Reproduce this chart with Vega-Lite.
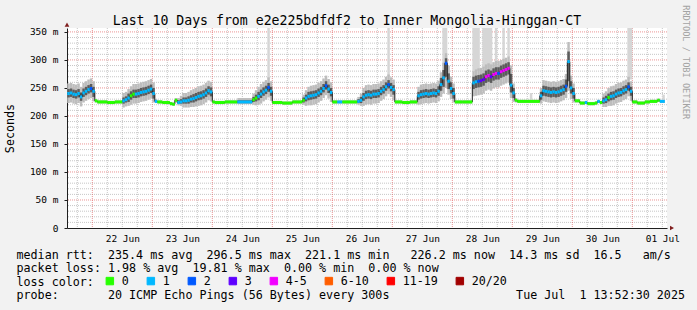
{
  "$schema": "https://vega.github.io/schema/vega-lite/v6.json",
  "width": 600,
  "height": 200,
  "autosize": {"type": "none"},
  "padding": {"left": 67, "top": 28, "right": 30, "bottom": 82},
  "background": "#f2f2f2",
  "title": {
    "text": "Last 10 Days from e2e225bdfdf2 to Inner Mongolia-Hinggan-CT",
    "font": "DejaVu Sans Mono",
    "fontSize": 13.2,
    "fontWeight": "normal",
    "color": "#000000",
    "anchor": "middle",
    "frame": "group",
    "dx": -20,
    "offset": -23
  },
  "datasets": {
    "d": [
      {"t":"2025-06-21T13:00","e":"2025-06-21T14:00","m":240,"l":"1","a":223,"b":258,"c":233,"d":248},
      {"t":"2025-06-21T14:00","e":"2025-06-21T15:00","m":240,"l":"1","a":223,"b":258,"c":233,"d":248},
      {"t":"2025-06-21T15:00","e":"2025-06-21T16:00","m":241,"l":"1","a":224,"b":259,"c":234,"d":249},
      {"t":"2025-06-21T16:00","e":"2025-06-21T17:00","m":239,"l":"1","a":222,"b":257,"c":232,"d":247},
      {"t":"2025-06-21T17:00","e":"2025-06-21T18:00","m":238,"l":"1","a":221,"b":256,"c":231,"d":246},
      {"t":"2025-06-21T18:00","e":"2025-06-21T19:00","m":240,"l":"1","a":223,"b":258,"c":233,"d":248},
      {"t":"2025-06-21T19:00","e":"2025-06-21T20:00","m":234,"l":"1","a":217,"b":252,"c":227,"d":242},
      {"t":"2025-06-21T20:00","e":"2025-06-21T21:00","m":241,"l":"1","a":224,"b":259,"c":234,"d":249},
      {"t":"2025-06-21T21:00","e":"2025-06-21T22:00","m":244,"l":"1","a":227,"b":262,"c":237,"d":252},
      {"t":"2025-06-21T22:00","e":"2025-06-21T23:00","m":247,"l":"1","a":230,"b":265,"c":240,"d":255},
      {"t":"2025-06-21T23:00","e":"2025-06-22T00:00","m":249,"l":"2","a":232,"b":267,"c":242,"d":257},
      {"t":"2025-06-22T00:00","e":"2025-06-22T01:00","m":244,"l":"1","a":226,"b":262,"c":234,"d":252},
      {"t":"2025-06-22T01:00","e":"2025-06-22T02:00","m":227,"l":"0","a":224,"b":230},
      {"t":"2025-06-22T02:00","e":"2025-06-22T06:00","m":225,"l":"0","a":222,"b":228},
      {"t":"2025-06-22T06:00","e":"2025-06-22T09:00","m":224,"l":"0","a":221,"b":227},
      {"t":"2025-06-22T09:00","e":"2025-06-22T12:00","m":225,"l":"0","a":222,"b":228},
      {"t":"2025-06-22T12:00","e":"2025-06-22T13:00","m":227,"l":"1","a":215,"b":241,"c":222,"d":233},
      {"t":"2025-06-22T13:00","e":"2025-06-22T14:00","m":229,"l":"1","a":217,"b":243,"c":224,"d":235},
      {"t":"2025-06-22T14:00","e":"2025-06-22T15:00","m":232,"l":"1","a":218,"b":248,"c":225,"d":240},
      {"t":"2025-06-22T15:00","e":"2025-06-22T16:00","m":236,"l":"0","a":220,"b":253,"c":229,"d":244},
      {"t":"2025-06-22T16:00","e":"2025-06-22T17:00","m":239,"l":"0","a":222,"b":257,"c":232,"d":247},
      {"t":"2025-06-22T17:00","e":"2025-06-22T18:00","m":239,"l":"1","a":222,"b":257,"c":232,"d":247},
      {"t":"2025-06-22T18:00","e":"2025-06-22T19:00","m":240,"l":"1","a":223,"b":258,"c":233,"d":248},
      {"t":"2025-06-22T19:00","e":"2025-06-22T20:00","m":242,"l":"1","a":225,"b":260,"c":235,"d":250},
      {"t":"2025-06-22T20:00","e":"2025-06-22T21:00","m":243,"l":"1","a":226,"b":261,"c":236,"d":251},
      {"t":"2025-06-22T21:00","e":"2025-06-22T22:00","m":244,"l":"1","a":227,"b":262,"c":237,"d":252},
      {"t":"2025-06-22T22:00","e":"2025-06-22T23:00","m":246,"l":"1","a":229,"b":264,"c":239,"d":254},
      {"t":"2025-06-22T23:00","e":"2025-06-23T00:00","m":248,"l":"1","a":231,"b":266,"c":241,"d":256},
      {"t":"2025-06-23T00:00","e":"2025-06-23T01:00","m":240,"l":"1","a":224,"b":260,"c":231,"d":250},
      {"t":"2025-06-23T01:00","e":"2025-06-23T02:00","m":226,"l":"1","a":223,"b":230},
      {"t":"2025-06-23T02:00","e":"2025-06-23T04:00","m":225,"l":"0","a":222,"b":228},
      {"t":"2025-06-23T04:00","e":"2025-06-23T07:00","m":224,"l":"0","a":221,"b":227},
      {"t":"2025-06-23T07:00","e":"2025-06-23T08:00","m":222,"l":"0","a":219,"b":225},
      {"t":"2025-06-23T08:00","e":"2025-06-23T09:00","m":221,"l":"0","a":218,"b":224},
      {"t":"2025-06-23T09:00","e":"2025-06-23T10:00","m":228,"l":"0","a":224,"b":232},
      {"t":"2025-06-23T10:00","e":"2025-06-23T11:00","m":224,"l":"1","a":219,"b":232,"c":222,"d":228},
      {"t":"2025-06-23T11:00","e":"2025-06-23T12:00","m":225,"l":"1","a":218,"b":236,"c":222,"d":230},
      {"t":"2025-06-23T12:00","e":"2025-06-23T13:00","m":227,"l":"1","a":215,"b":241,"c":222,"d":233},
      {"t":"2025-06-23T13:00","e":"2025-06-23T14:00","m":227,"l":"1","a":215,"b":241,"c":222,"d":233},
      {"t":"2025-06-23T14:00","e":"2025-06-23T15:00","m":228,"l":"1","a":215,"b":243,"c":222,"d":235},
      {"t":"2025-06-23T15:00","e":"2025-06-23T16:00","m":230,"l":"1","a":216,"b":246,"c":224,"d":237},
      {"t":"2025-06-23T16:00","e":"2025-06-23T17:00","m":231,"l":"1","a":216,"b":248,"c":224,"d":239},
      {"t":"2025-06-23T17:00","e":"2025-06-23T18:00","m":233,"l":"1","a":217,"b":250,"c":226,"d":241},
      {"t":"2025-06-23T18:00","e":"2025-06-23T19:00","m":235,"l":"1","a":218,"b":253,"c":228,"d":243},
      {"t":"2025-06-23T19:00","e":"2025-06-23T20:00","m":236,"l":"1","a":219,"b":254,"c":229,"d":244},
      {"t":"2025-06-23T20:00","e":"2025-06-23T21:00","m":238,"l":"1","a":221,"b":256,"c":231,"d":246},
      {"t":"2025-06-23T21:00","e":"2025-06-23T22:00","m":241,"l":"1","a":224,"b":259,"c":234,"d":249},
      {"t":"2025-06-23T22:00","e":"2025-06-23T23:00","m":245,"l":"1","a":228,"b":263,"c":238,"d":253},
      {"t":"2025-06-23T23:00","e":"2025-06-24T00:00","m":243,"l":"1","a":226,"b":261,"c":235,"d":251},
      {"t":"2025-06-24T00:00","e":"2025-06-24T01:00","m":225,"l":"0","a":222,"b":228},
      {"t":"2025-06-24T01:00","e":"2025-06-24T05:00","m":224,"l":"0","a":221,"b":227},
      {"t":"2025-06-24T05:00","e":"2025-06-24T10:00","m":225,"l":"0","a":222,"b":228},
      {"t":"2025-06-24T10:00","e":"2025-06-24T16:00","m":225,"l":"1","a":221,"b":232,"c":223,"d":228},
      {"t":"2025-06-24T16:00","e":"2025-06-24T17:00","m":229,"l":"0","a":220,"b":240,"c":225,"d":234},
      {"t":"2025-06-24T17:00","e":"2025-06-24T18:00","m":232,"l":"0","a":219,"b":246,"c":226,"d":238},
      {"t":"2025-06-24T18:00","e":"2025-06-24T19:00","m":235,"l":"1","a":220,"b":252,"c":228,"d":243},
      {"t":"2025-06-24T19:00","e":"2025-06-24T20:00","m":239,"l":"1","a":222,"b":257,"c":232,"d":247},
      {"t":"2025-06-24T20:00","e":"2025-06-24T21:00","m":243,"l":"1","a":226,"b":261,"c":236,"d":251},
      {"t":"2025-06-24T21:00","e":"2025-06-24T22:00","m":246,"l":"1","a":229,"b":264,"c":239,"d":254},
      {"t":"2025-06-24T22:00","e":"2025-06-24T23:00","m":251,"l":"2","a":233,"b":269,"c":243,"d":259},
      {"t":"2025-06-24T23:00","e":"2025-06-25T00:00","m":244,"l":"1","a":227,"b":262,"c":236,"d":252},
      {"t":"2025-06-25T00:00","e":"2025-06-25T04:00","m":224,"l":"0","a":221,"b":227},
      {"t":"2025-06-25T04:00","e":"2025-06-25T08:00","m":223,"l":"0","a":220,"b":226},
      {"t":"2025-06-25T08:00","e":"2025-06-25T12:00","m":225,"l":"0","a":222,"b":228},
      {"t":"2025-06-25T12:00","e":"2025-06-25T13:00","m":228,"l":"0","a":220,"b":238,"c":224,"d":233},
      {"t":"2025-06-25T13:00","e":"2025-06-25T14:00","m":232,"l":"1","a":218,"b":246,"c":226,"d":238},
      {"t":"2025-06-25T14:00","e":"2025-06-25T15:00","m":235,"l":"1","a":219,"b":252,"c":228,"d":243},
      {"t":"2025-06-25T15:00","e":"2025-06-25T16:00","m":236,"l":"1","a":219,"b":254,"c":229,"d":244},
      {"t":"2025-06-25T16:00","e":"2025-06-25T17:00","m":237,"l":"1","a":220,"b":255,"c":230,"d":245},
      {"t":"2025-06-25T17:00","e":"2025-06-25T18:00","m":238,"l":"1","a":221,"b":256,"c":231,"d":246},
      {"t":"2025-06-25T18:00","e":"2025-06-25T19:00","m":241,"l":"1","a":224,"b":259,"c":234,"d":249},
      {"t":"2025-06-25T19:00","e":"2025-06-25T20:00","m":244,"l":"1","a":227,"b":262,"c":237,"d":252},
      {"t":"2025-06-25T20:00","e":"2025-06-25T21:00","m":249,"l":"1","a":232,"b":267,"c":242,"d":257},
      {"t":"2025-06-25T21:00","e":"2025-06-25T22:00","m":254,"l":"2","a":237,"b":272,"c":247,"d":262},
      {"t":"2025-06-25T22:00","e":"2025-06-25T23:00","m":248,"l":"1","a":231,"b":266,"c":241,"d":256},
      {"t":"2025-06-25T23:00","e":"2025-06-26T00:00","m":242,"l":"1","a":225,"b":260,"c":235,"d":250},
      {"t":"2025-06-26T00:00","e":"2025-06-26T02:00","m":225,"l":"0","a":222,"b":228},
      {"t":"2025-06-26T02:00","e":"2025-06-26T04:00","m":225,"l":"1","a":222,"b":228},
      {"t":"2025-06-26T04:00","e":"2025-06-26T10:00","m":225,"l":"0","a":222,"b":228},
      {"t":"2025-06-26T10:00","e":"2025-06-26T11:00","m":226,"l":"1","a":220,"b":234,"c":223,"d":230},
      {"t":"2025-06-26T11:00","e":"2025-06-26T12:00","m":228,"l":"1","a":218,"b":240,"c":223,"d":234},
      {"t":"2025-06-26T12:00","e":"2025-06-26T13:00","m":234,"l":"1","a":218,"b":250,"c":227,"d":241},
      {"t":"2025-06-26T13:00","e":"2025-06-26T14:00","m":237,"l":"1","a":220,"b":255,"c":230,"d":245},
      {"t":"2025-06-26T14:00","e":"2025-06-26T15:00","m":238,"l":"1","a":221,"b":256,"c":231,"d":246},
      {"t":"2025-06-26T15:00","e":"2025-06-26T16:00","m":237,"l":"1","a":220,"b":255,"c":230,"d":245},
      {"t":"2025-06-26T16:00","e":"2025-06-26T17:00","m":239,"l":"1","a":222,"b":257,"c":232,"d":247},
      {"t":"2025-06-26T17:00","e":"2025-06-26T18:00","m":239,"l":"1","a":222,"b":257,"c":232,"d":247},
      {"t":"2025-06-26T18:00","e":"2025-06-26T19:00","m":240,"l":"1","a":223,"b":258,"c":233,"d":248},
      {"t":"2025-06-26T19:00","e":"2025-06-26T20:00","m":244,"l":"1","a":227,"b":262,"c":237,"d":252},
      {"t":"2025-06-26T20:00","e":"2025-06-26T21:00","m":247,"l":"1","a":230,"b":265,"c":240,"d":255},
      {"t":"2025-06-26T21:00","e":"2025-06-26T22:00","m":252,"l":"1","a":235,"b":270,"c":245,"d":260},
      {"t":"2025-06-26T22:00","e":"2025-06-26T23:00","m":256,"l":"2","a":239,"b":274,"c":249,"d":264},
      {"t":"2025-06-26T23:00","e":"2025-06-27T00:00","m":251,"l":"1","a":234,"b":269,"c":244,"d":259},
      {"t":"2025-06-27T00:00","e":"2025-06-27T01:00","m":247,"l":"1","a":228,"b":265,"c":238,"d":255},
      {"t":"2025-06-27T01:00","e":"2025-06-27T04:00","m":225,"l":"0","a":222,"b":228},
      {"t":"2025-06-27T04:00","e":"2025-06-27T07:00","m":224,"l":"0","a":221,"b":227},
      {"t":"2025-06-27T07:00","e":"2025-06-27T10:00","m":225,"l":"0","a":222,"b":228},
      {"t":"2025-06-27T10:00","e":"2025-06-27T11:00","m":236,"l":"1","a":220,"b":252,"c":229,"d":243},
      {"t":"2025-06-27T11:00","e":"2025-06-27T12:00","m":238,"l":"1","a":221,"b":256,"c":231,"d":246},
      {"t":"2025-06-27T12:00","e":"2025-06-27T13:00","m":239,"l":"1","a":222,"b":257,"c":232,"d":247},
      {"t":"2025-06-27T13:00","e":"2025-06-27T14:00","m":240,"l":"1","a":223,"b":258,"c":233,"d":248},
      {"t":"2025-06-27T14:00","e":"2025-06-27T15:00","m":239,"l":"1","a":222,"b":257,"c":232,"d":247},
      {"t":"2025-06-27T15:00","e":"2025-06-27T16:00","m":240,"l":"1","a":223,"b":258,"c":233,"d":248},
      {"t":"2025-06-27T16:00","e":"2025-06-27T17:00","m":241,"l":"1","a":224,"b":259,"c":234,"d":249},
      {"t":"2025-06-27T17:00","e":"2025-06-27T18:00","m":240,"l":"1","a":223,"b":258,"c":233,"d":248},
      {"t":"2025-06-27T18:00","e":"2025-06-27T19:00","m":244,"l":"1","a":226,"b":263,"c":236,"d":253},
      {"t":"2025-06-27T19:00","e":"2025-06-27T20:00","m":256,"l":"1","a":234,"b":278,"c":245,"d":268},
      {"t":"2025-06-27T20:00","e":"2025-06-27T21:00","m":268,"l":"1","a":240,"b":295,"c":252,"d":282},
      {"t":"2025-06-27T21:00","e":"2025-06-27T22:00","m":294,"l":"2","a":250,"b":312,"c":270,"d":303},
      {"t":"2025-06-27T22:00","e":"2025-06-27T23:00","m":262,"l":"1","a":238,"b":290,"c":248,"d":276},
      {"t":"2025-06-27T23:00","e":"2025-06-28T00:00","m":249,"l":"1","a":230,"b":270,"c":240,"d":260},
      {"t":"2025-06-28T00:00","e":"2025-06-28T01:00","m":240,"l":"1","a":224,"b":258,"c":231,"d":250},
      {"t":"2025-06-28T01:00","e":"2025-06-28T04:00","m":225,"l":"0","a":222,"b":228},
      {"t":"2025-06-28T04:00","e":"2025-06-28T08:00","m":225,"l":"0","a":222,"b":228},
      {"t":"2025-06-28T08:00","e":"2025-06-28T09:00","m":259,"l":"1","a":235,"b":280,"c":248,"d":270},
      {"t":"2025-06-28T09:00","e":"2025-06-28T10:00","m":261,"l":"1","a":236,"b":283,"c":250,"d":272},
      {"t":"2025-06-28T10:00","e":"2025-06-28T11:00","m":262,"l":"2","a":237,"b":285,"c":251,"d":273},
      {"t":"2025-06-28T11:00","e":"2025-06-28T12:00","m":263,"l":"3","a":238,"b":286,"c":252,"d":274},
      {"t":"2025-06-28T12:00","e":"2025-06-28T13:00","m":265,"l":"3","a":240,"b":288,"c":254,"d":276},
      {"t":"2025-06-28T13:00","e":"2025-06-28T14:00","m":270,"l":"4-5","a":245,"b":292,"c":259,"d":281},
      {"t":"2025-06-28T14:00","e":"2025-06-28T15:00","m":272,"l":"4-5","a":247,"b":294,"c":261,"d":283},
      {"t":"2025-06-28T15:00","e":"2025-06-28T16:00","m":270,"l":"3","a":245,"b":292,"c":259,"d":281},
      {"t":"2025-06-28T16:00","e":"2025-06-28T17:00","m":274,"l":"4-5","a":249,"b":296,"c":263,"d":285},
      {"t":"2025-06-28T17:00","e":"2025-06-28T18:00","m":276,"l":"4-5","a":251,"b":298,"c":265,"d":287},
      {"t":"2025-06-28T18:00","e":"2025-06-28T19:00","m":276,"l":"2","a":251,"b":298,"c":265,"d":287},
      {"t":"2025-06-28T19:00","e":"2025-06-28T20:00","m":279,"l":"4-5","a":254,"b":300,"c":268,"d":290},
      {"t":"2025-06-28T20:00","e":"2025-06-28T21:00","m":281,"l":"4-5","a":256,"b":302,"c":270,"d":292},
      {"t":"2025-06-28T21:00","e":"2025-06-28T22:00","m":283,"l":"4-5","a":258,"b":304,"c":272,"d":294},
      {"t":"2025-06-28T22:00","e":"2025-06-28T23:00","m":285,"l":"4-5","a":260,"b":306,"c":274,"d":296},
      {"t":"2025-06-28T23:00","e":"2025-06-29T00:00","m":255,"l":"1","a":232,"b":290,"c":242,"d":275},
      {"t":"2025-06-29T00:00","e":"2025-06-29T01:00","m":241,"l":"1","a":225,"b":258,"c":232,"d":250},
      {"t":"2025-06-29T01:00","e":"2025-06-29T02:00","m":228,"l":"0","a":224,"b":232},
      {"t":"2025-06-29T02:00","e":"2025-06-29T11:00","m":226,"l":"0","a":223,"b":229},
      {"t":"2025-06-29T11:00","e":"2025-06-29T12:00","m":236,"l":"1","a":222,"b":250,"c":229,"d":243},
      {"t":"2025-06-29T12:00","e":"2025-06-29T13:00","m":245,"l":"1","a":226,"b":264,"c":236,"d":254},
      {"t":"2025-06-29T13:00","e":"2025-06-29T14:00","m":244,"l":"1","a":225,"b":263,"c":235,"d":253},
      {"t":"2025-06-29T14:00","e":"2025-06-29T15:00","m":243,"l":"1","a":224,"b":262,"c":234,"d":252},
      {"t":"2025-06-29T15:00","e":"2025-06-29T16:00","m":242,"l":"1","a":223,"b":261,"c":233,"d":251},
      {"t":"2025-06-29T16:00","e":"2025-06-29T17:00","m":243,"l":"1","a":224,"b":262,"c":234,"d":252},
      {"t":"2025-06-29T17:00","e":"2025-06-29T18:00","m":242,"l":"1","a":223,"b":261,"c":233,"d":251},
      {"t":"2025-06-29T18:00","e":"2025-06-29T19:00","m":243,"l":"1","a":224,"b":262,"c":234,"d":252},
      {"t":"2025-06-29T19:00","e":"2025-06-29T20:00","m":245,"l":"1","a":226,"b":264,"c":236,"d":254},
      {"t":"2025-06-29T20:00","e":"2025-06-29T21:00","m":247,"l":"1","a":228,"b":266,"c":238,"d":256},
      {"t":"2025-06-29T21:00","e":"2025-06-29T22:00","m":253,"l":"2","a":232,"b":275,"c":243,"d":265},
      {"t":"2025-06-29T22:00","e":"2025-06-29T23:00","m":297,"l":"1","a":245,"b":332,"c":262,"d":315},
      {"t":"2025-06-29T23:00","e":"2025-06-30T00:00","m":250,"l":"1","a":230,"b":272,"c":240,"d":262},
      {"t":"2025-06-30T00:00","e":"2025-06-30T01:00","m":240,"l":"1","a":224,"b":258,"c":231,"d":250},
      {"t":"2025-06-30T01:00","e":"2025-06-30T03:00","m":227,"l":"0","a":224,"b":230},
      {"t":"2025-06-30T03:00","e":"2025-06-30T05:00","m":223,"l":"0","a":220,"b":226},
      {"t":"2025-06-30T05:00","e":"2025-06-30T06:00","m":224,"l":"1","a":221,"b":227},
      {"t":"2025-06-30T06:00","e":"2025-06-30T09:00","m":222,"l":"0","a":219,"b":225},
      {"t":"2025-06-30T09:00","e":"2025-06-30T10:00","m":223,"l":"0","a":220,"b":226},
      {"t":"2025-06-30T10:00","e":"2025-06-30T11:00","m":226,"l":"1","a":223,"b":229},
      {"t":"2025-06-30T11:00","e":"2025-06-30T12:00","m":224,"l":"0","a":221,"b":227},
      {"t":"2025-06-30T12:00","e":"2025-06-30T13:00","m":227,"l":"1","a":216,"b":240,"c":222,"d":233},
      {"t":"2025-06-30T13:00","e":"2025-06-30T14:00","m":229,"l":"1","a":216,"b":244,"c":223,"d":236},
      {"t":"2025-06-30T14:00","e":"2025-06-30T15:00","m":233,"l":"0","a":218,"b":250,"c":226,"d":240},
      {"t":"2025-06-30T15:00","e":"2025-06-30T16:00","m":235,"l":"1","a":218,"b":253,"c":228,"d":243},
      {"t":"2025-06-30T16:00","e":"2025-06-30T17:00","m":236,"l":"1","a":219,"b":254,"c":229,"d":244},
      {"t":"2025-06-30T17:00","e":"2025-06-30T18:00","m":239,"l":"1","a":222,"b":257,"c":232,"d":247},
      {"t":"2025-06-30T18:00","e":"2025-06-30T19:00","m":241,"l":"1","a":224,"b":259,"c":234,"d":249},
      {"t":"2025-06-30T19:00","e":"2025-06-30T20:00","m":242,"l":"1","a":225,"b":260,"c":235,"d":250},
      {"t":"2025-06-30T20:00","e":"2025-06-30T21:00","m":245,"l":"1","a":228,"b":263,"c":238,"d":253},
      {"t":"2025-06-30T21:00","e":"2025-06-30T22:00","m":247,"l":"1","a":230,"b":265,"c":240,"d":255},
      {"t":"2025-06-30T22:00","e":"2025-06-30T23:00","m":252,"l":"2","a":235,"b":270,"c":245,"d":260},
      {"t":"2025-06-30T23:00","e":"2025-07-01T00:00","m":244,"l":"1","a":227,"b":262,"c":236,"d":252},
      {"t":"2025-07-01T00:00","e":"2025-07-01T02:00","m":225,"l":"0","a":222,"b":228},
      {"t":"2025-07-01T02:00","e":"2025-07-01T05:00","m":223,"l":"0","a":220,"b":226},
      {"t":"2025-07-01T05:00","e":"2025-07-01T07:00","m":225,"l":"0","a":222,"b":228},
      {"t":"2025-07-01T07:00","e":"2025-07-01T10:00","m":226,"l":"0","a":223,"b":229},
      {"t":"2025-07-01T10:00","e":"2025-07-01T11:00","m":228,"l":"0","a":225,"b":231},
      {"t":"2025-07-01T11:00","e":"2025-07-01T13:00","m":226,"l":"1","a":223,"b":229}
    ],
    "s": [
      {"t":"2025-06-24T22:00","e":"2025-06-24T23:00","lo":265,"hi":357},
      {"t":"2025-06-26T22:00","e":"2025-06-26T23:00","lo":270,"hi":357},
      {"t":"2025-06-27T20:00","e":"2025-06-27T22:00","lo":290,"hi":357},
      {"t":"2025-06-28T08:00","e":"2025-06-28T11:00","lo":280,"hi":357},
      {"t":"2025-06-28T12:00","e":"2025-06-28T16:00","lo":285,"hi":357},
      {"t":"2025-06-28T17:00","e":"2025-06-28T18:00","lo":295,"hi":357},
      {"t":"2025-06-28T20:00","e":"2025-06-28T21:00","lo":300,"hi":357},
      {"t":"2025-06-28T22:00","e":"2025-06-28T23:00","lo":305,"hi":357},
      {"t":"2025-06-30T22:00","e":"2025-07-01T00:00","lo":265,"hi":357},
      {"t":"2025-06-29T07:00","e":"2025-06-29T08:00","lo":229,"hi":241},
      {"t":"2025-07-01T12:00","e":"2025-07-01T13:00","lo":229,"hi":238}
    ],
    "gxm": [
      {"t":"2025-06-21T18:00"},
      {"t":"2025-06-22T06:00"},{"t":"2025-06-22T12:00"},{"t":"2025-06-22T18:00"},
      {"t":"2025-06-23T06:00"},{"t":"2025-06-23T12:00"},{"t":"2025-06-23T18:00"},
      {"t":"2025-06-24T06:00"},{"t":"2025-06-24T12:00"},{"t":"2025-06-24T18:00"},
      {"t":"2025-06-25T06:00"},{"t":"2025-06-25T12:00"},{"t":"2025-06-25T18:00"},
      {"t":"2025-06-26T06:00"},{"t":"2025-06-26T12:00"},{"t":"2025-06-26T18:00"},
      {"t":"2025-06-27T06:00"},{"t":"2025-06-27T12:00"},{"t":"2025-06-27T18:00"},
      {"t":"2025-06-28T06:00"},{"t":"2025-06-28T12:00"},{"t":"2025-06-28T18:00"},
      {"t":"2025-06-29T06:00"},{"t":"2025-06-29T12:00"},{"t":"2025-06-29T18:00"},
      {"t":"2025-06-30T06:00"},{"t":"2025-06-30T12:00"},{"t":"2025-06-30T18:00"},
      {"t":"2025-07-01T06:00"},{"t":"2025-07-01T12:00"}
    ],
    "gxM": [
      {"t":"2025-06-22T00:00"},{"t":"2025-06-23T00:00"},{"t":"2025-06-24T00:00"},{"t":"2025-06-25T00:00"},{"t":"2025-06-26T00:00"},
      {"t":"2025-06-27T00:00"},{"t":"2025-06-28T00:00"},{"t":"2025-06-29T00:00"},{"t":"2025-06-30T00:00"},{"t":"2025-07-01T00:00"}
    ],
    "gym": [
      {"v":10},{"v":20},{"v":30},{"v":40},{"v":60},{"v":70},{"v":80},{"v":90},
      {"v":110},{"v":120},{"v":130},{"v":140},{"v":160},{"v":170},{"v":180},{"v":190},
      {"v":210},{"v":220},{"v":230},{"v":240},{"v":260},{"v":270},{"v":280},{"v":290},
      {"v":310},{"v":320},{"v":330},{"v":340}
    ],
    "gyM": [
      {"v":50},{"v":100},{"v":150},{"v":200},{"v":250},{"v":300},{"v":350}
    ]
  },
  "layer": [
    {
      "data": {"name": "gym"},
      "mark": {"type": "rule", "color": "#8f8f8f", "opacity": 0.5, "strokeWidth": 1, "strokeDash": [1, 1]},
      "encoding": {
        "y": {"field": "v", "type": "quantitative", "scale": {"domain": [0, 357], "nice": false, "zero": false}}
      }
    },
    {
      "data": {"name": "gxm"},
      "mark": {"type": "rule", "color": "#8f8f8f", "opacity": 0.5, "strokeWidth": 1, "strokeDash": [1, 1]},
      "encoding": {
        "x": {"field": "t", "type": "temporal", "scale": {"domain": [{"year":2025,"month":6,"date":21,"hours":13,"minutes":52,"seconds":30},{"year":2025,"month":7,"date":1,"hours":13,"minutes":52,"seconds":30}], "nice": false}}
      }
    },
    {
      "data": {"name": "gyM"},
      "mark": {"type": "rule", "color": "#de4f4f", "opacity": 0.6, "strokeWidth": 1, "strokeDash": [1, 1]},
      "encoding": {
        "y": {"field": "v", "type": "quantitative"}
      }
    },
    {
      "data": {"name": "gxM"},
      "mark": {"type": "rule", "color": "#de4f4f", "opacity": 0.6, "strokeWidth": 1, "strokeDash": [1, 1]},
      "encoding": {
        "x": {"field": "t", "type": "temporal"}
      }
    },
    {
      "data": {"name": "s"},
      "mark": {"type": "rect", "color": "#d6d6d6", "clip": true},
      "encoding": {
        "x": {"field": "t", "type": "temporal"},
        "x2": {"field": "e"},
        "y": {"field": "lo", "type": "quantitative"},
        "y2": {"field": "hi"}
      }
    },
    {
      "data": {"name": "d"},
      "mark": {"type": "rect", "color": "#bdbdbd", "clip": true},
      "encoding": {
        "x": {"field": "t", "type": "temporal", "scale": {"domain": [{"year":2025,"month":6,"date":21,"hours":13,"minutes":52,"seconds":30},{"year":2025,"month":7,"date":1,"hours":13,"minutes":52,"seconds":30}], "nice": false},
          "axis": {
            "title": [
              "median\u00a0rtt:\u00a0\u00a0235.4\u00a0ms\u00a0avg\u00a0\u00a0296.5\u00a0ms\u00a0max\u00a0\u00a0221.1\u00a0ms\u00a0min\u00a0\u00a0\u00a0226.2\u00a0ms\u00a0now\u00a0\u00a014.3\u00a0ms\u00a0sd\u00a0\u00a016.5\u00a0\u00a0\u00a0am/s",
              "packet\u00a0loss:\u00a01.98\u00a0%\u00a0avg\u00a0\u00a019.81\u00a0%\u00a0max\u00a0\u00a00.00\u00a0%\u00a0min\u00a0\u00a00.00\u00a0%\u00a0now",
              "loss\u00a0color:",
              "probe:\u00a0\u00a0\u00a0\u00a0\u00a0\u00a0\u00a020\u00a0ICMP\u00a0Echo\u00a0Pings\u00a0(56\u00a0Bytes)\u00a0every\u00a0300s\u00a0\u00a0\u00a0\u00a0\u00a0\u00a0\u00a0\u00a0\u00a0\u00a0\u00a0\u00a0\u00a0\u00a0\u00a0\u00a0\u00a0\u00a0Tue\u00a0Jul\u00a0\u00a01\u00a013:52:30\u00a02025"
            ],
            "titleFont": "DejaVu Sans Mono", "titleFontSize": 11.7, "titleFontWeight": "normal", "titleColor": "#000000",
            "titleAlign": "left", "titleAnchor": "start", "titleX": -51, "titleY": 30, "titleBaseline": "alphabetic", "titleLineHeight": 13.5,
            "values": [
              {"year":2025,"month":6,"date":22,"hours":12},{"year":2025,"month":6,"date":23,"hours":12},{"year":2025,"month":6,"date":24,"hours":12},
              {"year":2025,"month":6,"date":25,"hours":12},{"year":2025,"month":6,"date":26,"hours":12},{"year":2025,"month":6,"date":27,"hours":12},
              {"year":2025,"month":6,"date":28,"hours":12},{"year":2025,"month":6,"date":29,"hours":12},{"year":2025,"month":6,"date":30,"hours":12},
              {"year":2025,"month":7,"date":1,"hours":12}
            ],
            "format": "%d %b",
            "labelFont": "DejaVu Sans Mono", "labelFontSize": 9.5, "labelColor": "#000000", "labelPadding": 5,
            "labelOverlap": false, "labelFlush": false, "labelBound": false,
            "ticks": false, "grid": false,
            "domainColor": "#1f1f1f", "domainWidth": 1
          }},
        "x2": {"field": "e"},
        "y": {"field": "a", "type": "quantitative", "scale": {"domain": [0, 357], "nice": false, "zero": false},
          "axis": {
            "title": "Seconds", "titleFont": "DejaVu Sans Mono", "titleFontSize": 11.7, "titleFontWeight": "normal", "titleColor": "#000000",
            "titleX": -54, "titleY": 100, "titleAlign": "center", "titleBaseline": "alphabetic", "titleAngle": 270,
            "values": [0, 50, 100, 150, 200, 250, 300, 350],
            "tickCount": 8,
            "labelExpr": "datum.label == '0' ? '0' : datum.label + ' m'",
            "labelFont": "DejaVu Sans Mono", "labelFontSize": 9.5, "labelColor": "#000000", "labelPadding": 6,
            "labelOverlap": false, "labelFlush": false, "labelBound": false,
            "tickSize": 3, "tickColor": "#1f1f1f", "grid": false,
            "domainColor": "#1f1f1f", "domainWidth": 1
          }},
        "y2": {"field": "b"}
      }
    },
    {
      "data": {"name": "d"},
      "mark": {"type": "rect", "color": "#5c5c5c", "clip": true},
      "encoding": {
        "x": {"field": "t", "type": "temporal"},
        "x2": {"field": "e"},
        "y": {"field": "c", "type": "quantitative"},
        "y2": {"field": "d"}
      }
    },
    {
      "data": {"name": "d"},
      "mark": {"type": "line", "interpolate": "step-after", "color": "#202020", "strokeWidth": 1, "clip": true},
      "encoding": {
        "x": {"field": "t", "type": "temporal"},
        "y": {"field": "m", "type": "quantitative"}
      }
    },
    {
      "data": {"name": "d"},
      "mark": {"type": "point", "shape": "square", "filled": true, "opacity": 0, "size": 1, "clip": true},
      "encoding": {
        "x": {"field": "t", "type": "temporal"},
        "y": {"field": "m", "type": "quantitative"},
        "color": {
          "field": "l", "type": "nominal",
          "scale": {"domain": ["0","1","2","3","4-5","6-10","11-19","20/20"], "range": ["#26ff00","#00b8ff","#0059ff","#5e00ff","#f200ff","#ff5e00","#ff0000","#a10000"]},
          "legend": {
            "orient": "none", "legendX": 37, "legendY": 247, "direction": "horizontal", "title": null,
            "labelFont": "DejaVu Sans Mono", "labelFontSize": 11.7, "labelColor": "#000000", "labelOffset": 6,
            "columnPadding": 16, "padding": 0,
            "symbolType": "square", "symbolSize": 56, "symbolStrokeWidth": 1, "symbolStrokeColor": "#000000", "symbolOpacity": 1
          }
        }
      }
    },
    {
      "data": {"name": "d"},
      "mark": {"type": "rule", "strokeWidth": 3, "clip": true},
      "encoding": {
        "x": {"field": "t", "type": "temporal"},
        "x2": {"field": "e"},
        "y": {"field": "m", "type": "quantitative"},
        "stroke": {
          "field": "l", "type": "nominal",
          "scale": {"domain": ["0","1","2","3","4-5","6-10","11-19","20/20"], "range": ["#26ff00","#00b8ff","#0059ff","#5e00ff","#f200ff","#ff5e00","#ff0000","#a10000"]},
          "legend": null
        }
      }
    },
    {
      "data": {"values": [{"w": "RRDTOOL / TOBI OETIKER"}]},
      "mark": {"type": "text", "font": "DejaVu Sans Mono", "fontSize": 8.6, "color": "#a3a3a3", "angle": 90, "align": "center", "baseline": "alphabetic"},
      "encoding": {
        "x": {"datum": {"year":2025,"month":7,"date":1,"hours":20,"minutes":28}, "type": "temporal"},
        "y": {"datum": 296, "type": "quantitative"},
        "text": {"field": "w"}
      }
    },
    {
      "data": {"values": [{"k": "y"}]},
      "mark": {"type": "point", "shape": "triangle-up", "filled": true, "color": "#801f1f", "opacity": 1, "size": 22},
      "encoding": {
        "x": {"datum": {"year":2025,"month":6,"date":21,"hours":13,"minutes":52,"seconds":30}, "type": "temporal"},
        "y": {"datum": 363, "type": "quantitative"}
      }
    },
    {
      "data": {"values": [{"k": "x"}]},
      "mark": {"type": "point", "shape": "triangle-right", "filled": true, "color": "#801f1f", "opacity": 1, "size": 22},
      "encoding": {
        "x": {"datum": {"year":2025,"month":7,"date":1,"hours":15,"minutes":52,"seconds":30}, "type": "temporal"},
        "y": {"datum": 0, "type": "quantitative"}
      }
    }
  ],
  "config": {
    "view": {"fill": "#ffffff", "stroke": null},
    "font": "DejaVu Sans Mono",
    "axisY": {"labelOverlap": false, "tickCount": 8},
    "axisX": {"labelOverlap": false}
  }
}
